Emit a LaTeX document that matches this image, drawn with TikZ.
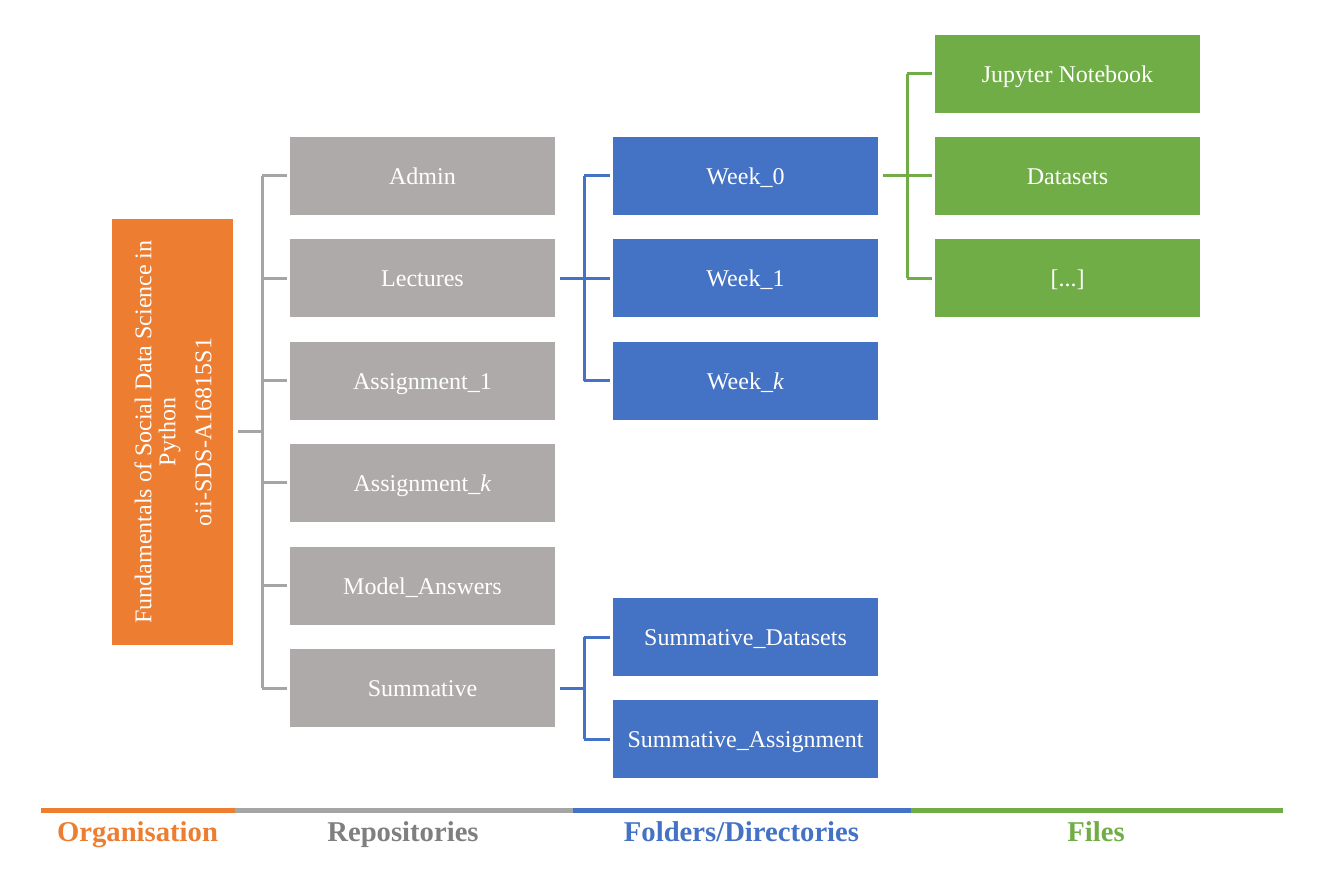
\documentclass[tikz,border=0pt]{standalone}
\usepackage{fontspec}
\setmainfont{Liberation Serif}
\usetikzlibrary{calc}

\definecolor{orgorange}{HTML}{ED7D31}
\definecolor{repogrey}{HTML}{AEAAAA}
\definecolor{repoline}{HTML}{A5A5A5}
\definecolor{repotext}{HTML}{7F7F7F}
\definecolor{dirblue}{HTML}{4472C4}
\definecolor{filegreen}{HTML}{70AD47}

\tikzset{
  every picture/.style={line width=0.75pt},
  box/.style={minimum width=198.75pt, minimum height=58.5pt, inner sep=0pt,
    text height=16.4pt, text depth=4pt,
    text=white, font=\fontsize{18}{21.6}\selectfont},
  repobox/.style={box, fill=repogrey},
  dirbox/.style={box, fill=dirblue},
  filebox/.style={box, fill=filegreen},
  branch/.style={line width=2.25pt},
  legend/.style={anchor=base, font=\fontsize{21.5}{24}\selectfont\bfseries}
}

\begin{document}
\begin{tikzpicture}[x=0.75pt,y=0.75pt,yscale=-1,xscale=1]
    \useasboundingbox (0,0) rectangle (1329,873);

    %Organisation
    \node [fill=orgorange, minimum width=90.75pt, minimum height=319.5pt, inner sep=0pt] (org) at (172.5,432) {};
    \node [rotate=90, text=white, align=center, font=\fontsize{18}{18}\selectfont] (orgtext) at (173,432)
      {Fundamentals of Social Data Science in\\Python\\[9pt]oii-SDS-A16815S1};

    %Repositories
    \node [repobox] (admin) at (422.5,176) {Admin};
    \node [repobox] (lect) at (422.5,278.5) {Lectures};
    \node [repobox] (asg1) at (422.5,381) {Assignment\_1};
    \node [repobox] (asgk) at (422.5,483) {Assignment\_\textit{k}};
    \node [repobox] (model) at (422.5,586) {Model\_Answers};
    \node [repobox] (summ) at (422.5,688) {Summative};

    %Folders/Directories
    \node [dirbox] (wk0) at (745.5,176) {Week\_0};
    \node [dirbox] (wk1) at (745.5,278.5) {Week\_1};
    \node [dirbox] (wkk) at (745.5,381) {Week\_\textit{k}};
    \node [dirbox] (sdata) at (745.5,637) {Summative\_Datasets};
    \node [dirbox] (sasg) at (745.5,739) {Summative\_Assignment};

    %Files
    \node [filebox] (nb) at (1067.5,74) {Jupyter Notebook};
    \node [filebox] (data) at (1067.5,176) {Datasets};
    \node [filebox] (etc) at (1067.5,278.5) {[...]};

    %Connectors: organisation -> repositories
    \coordinate (gt) at (262,432);
    \draw [branch, repoline] ($(org.east)+(4,0)$) -- (gt);
    \draw [branch, repoline] (gt |- admin.west) -- (gt |- summ.west);
    \foreach \n in {admin,lect,asg1,asgk,model,summ}
      \draw [branch, repoline] (gt |- \n.west) -- ($(\n.west)+(-3,0)$);

    %Connectors: lectures -> weeks
    \coordinate (bt) at (584,278.5);
    \draw [branch, dirblue] ($(lect.east)+(4,0)$) -- (bt);
    \draw [branch, dirblue] (bt |- wk0.west) -- (bt |- wkk.west);
    \foreach \n in {wk0,wk1,wkk}
      \draw [branch, dirblue] (bt |- \n.west) -- ($(\n.west)+(-3,0)$);

    %Connectors: summative -> folders
    \coordinate (st) at (584,688);
    \draw [branch, dirblue] ($(summ.east)+(4,0)$) -- (st);
    \draw [branch, dirblue] (st |- sdata.west) -- (st |- sasg.west);
    \foreach \n in {sdata,sasg}
      \draw [branch, dirblue] (st |- \n.west) -- ($(\n.west)+(-3,0)$);

    %Connectors: week_0 -> files
    \coordinate (ft) at (907,176);
    \draw [branch, filegreen] ($(wk0.east)+(4,0)$) -- (ft);
    \draw [branch, filegreen] (ft |- nb.west) -- (ft |- etc.west);
    \foreach \n in {nb,data,etc}
      \draw [branch, filegreen] (ft |- \n.west) -- ($(\n.west)+(-3,0)$);

    %Legend bar
    \draw [line width=3.75pt, orgorange] (41,810) -- (235,810);
    \draw [line width=3.75pt, repoline] (235,810) -- (573,810);
    \draw [line width=3.75pt, dirblue] (573,810) -- (911,810);
    \draw [line width=3.75pt, filegreen] (911,810) -- (1283,810);

    % Text Node
    \node [legend, text=orgorange] (legorg) at (137.5,841) {Organisation};
    \node [legend, text=repotext] (legrepo) at (403,841) {Repositories};
    \node [legend, text=dirblue] (legdir) at (741.5,841) {Folders/Directories};
    \node [legend, text=filegreen] (legfile) at (1096,841) {Files};

\end{tikzpicture}
\end{document}
